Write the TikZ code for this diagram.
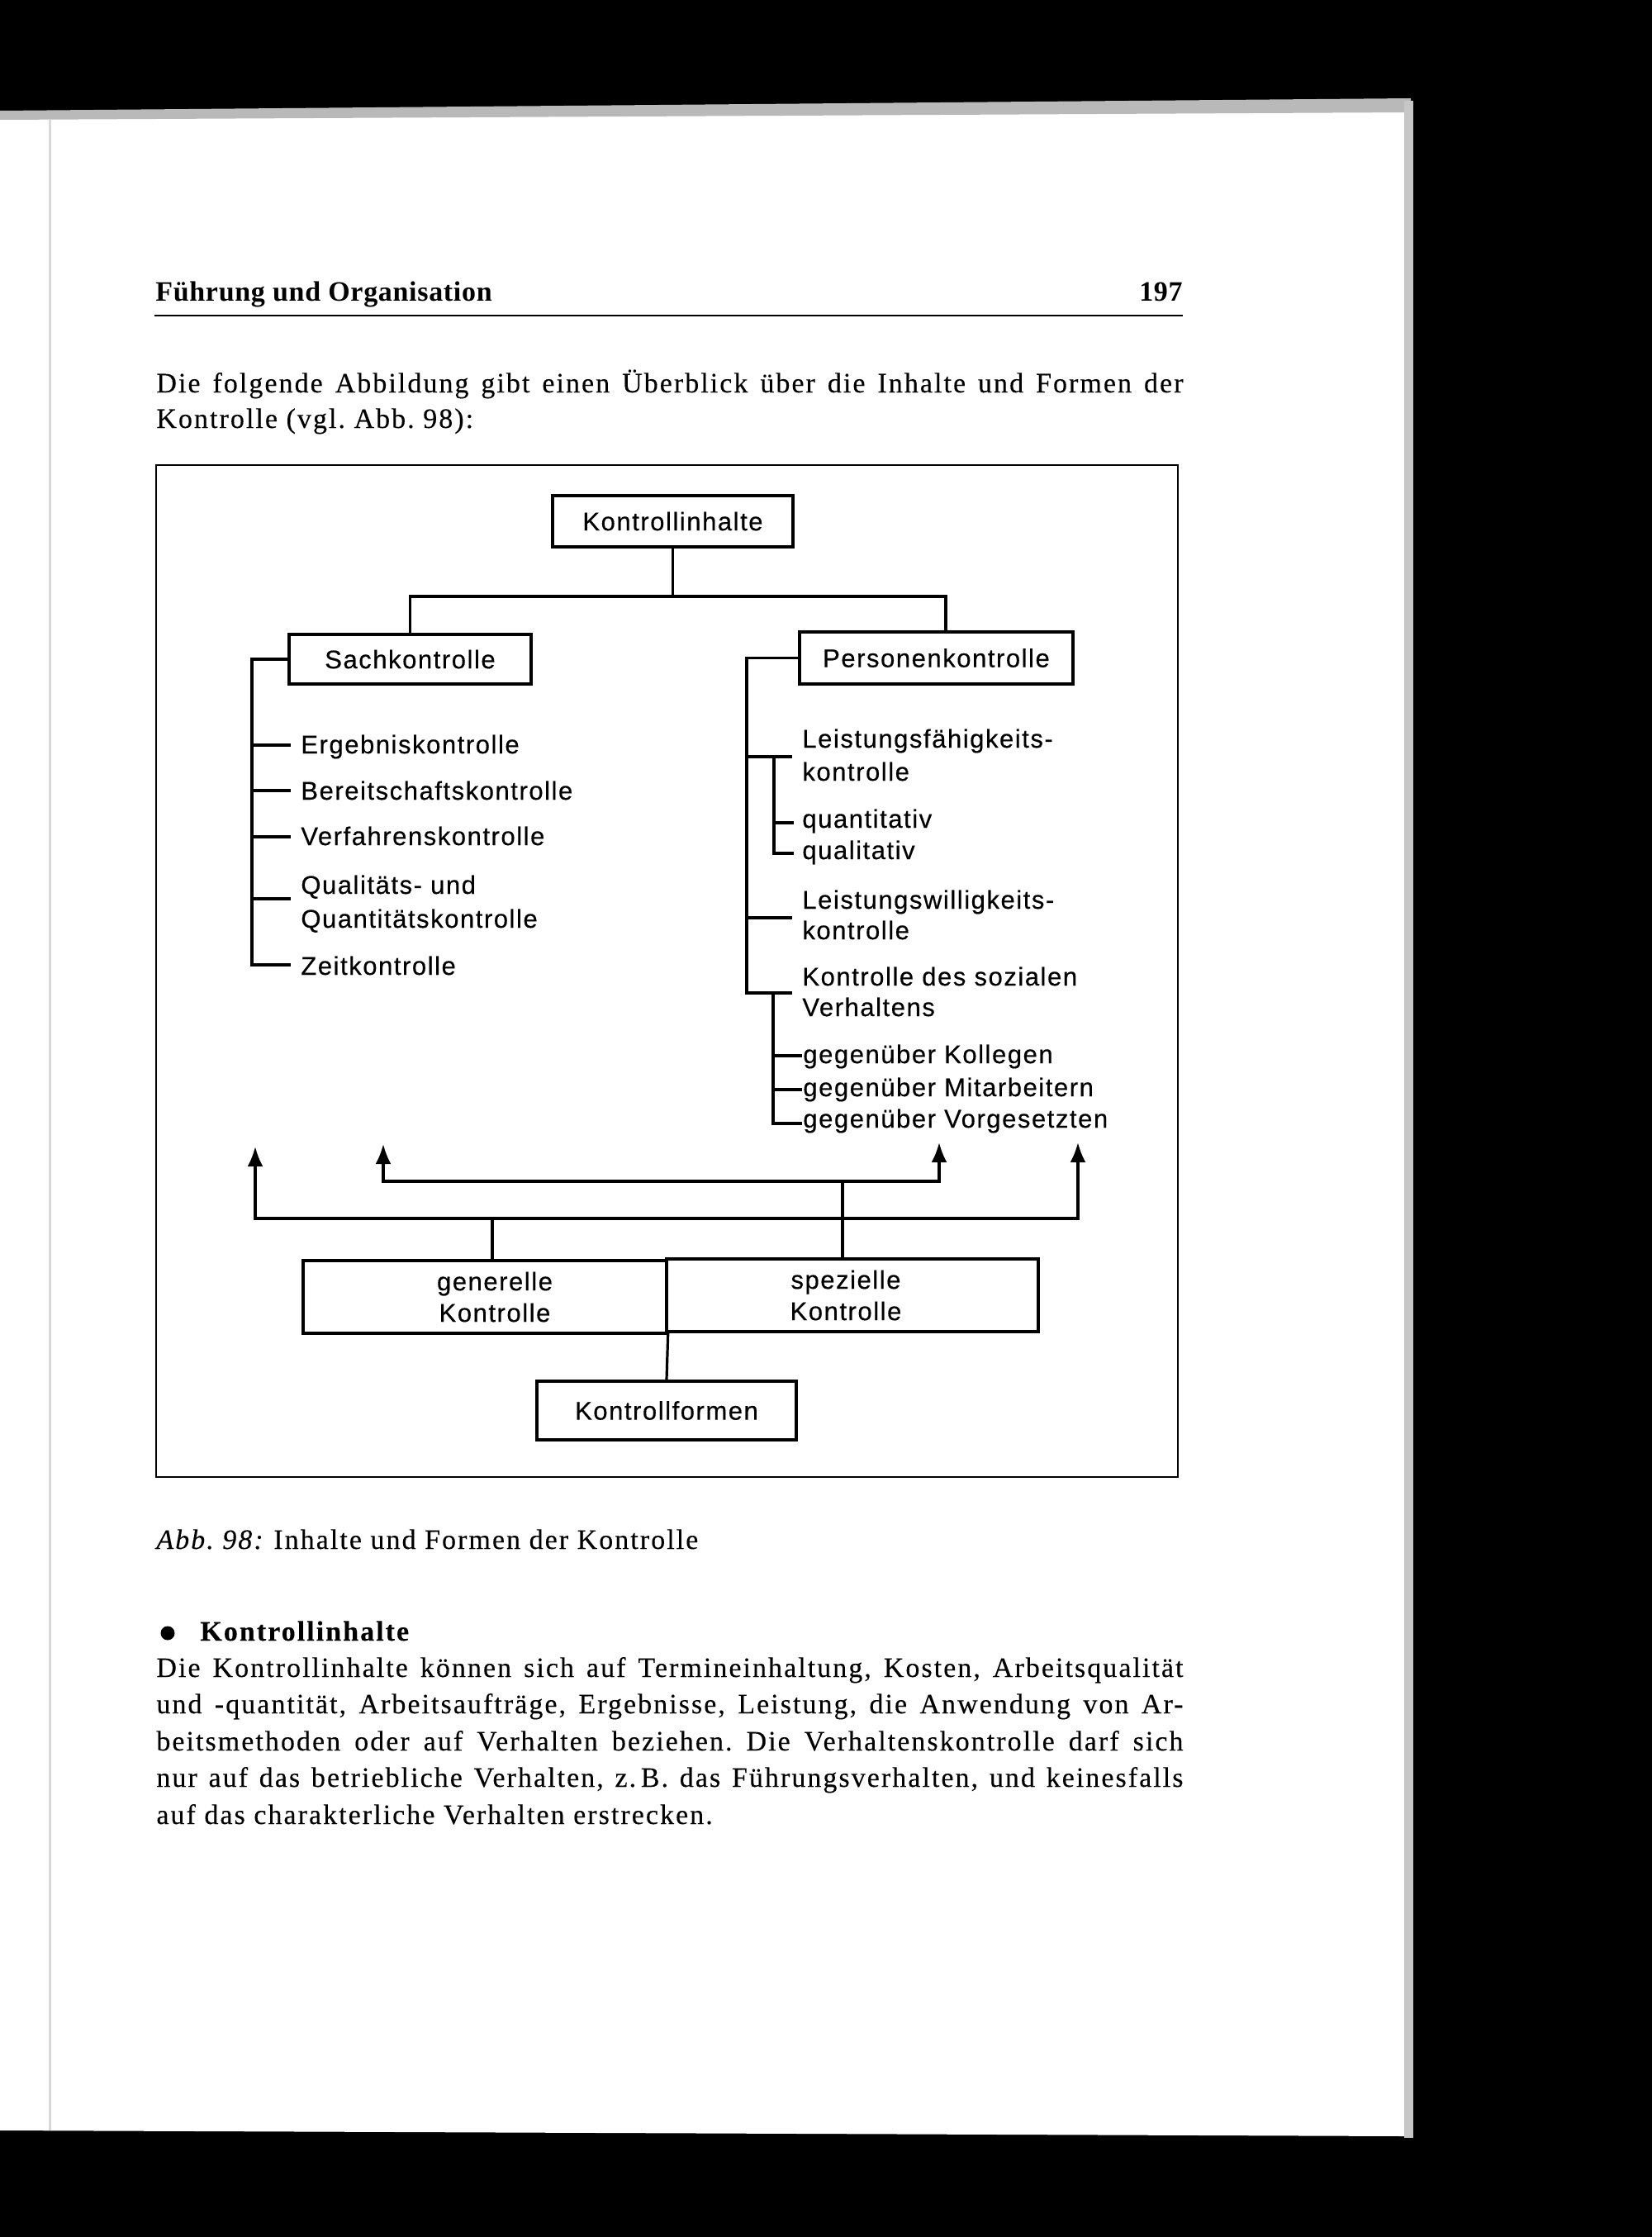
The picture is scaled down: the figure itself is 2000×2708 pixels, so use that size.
\documentclass[tikz,border=0pt]{standalone}
\usepackage{fontspec}
\setmainfont{Liberation Serif}
\newfontfamily\bodyfont{Liberation Serif}[LetterSpace=6,FakeBold=0.2]
\newfontfamily\headfont{Liberation Serif}[LetterSpace=2]
\newfontfamily\diafont{Liberation Sans}[LetterSpace=5,FakeBold=0.4]
\usetikzlibrary{arrows.meta}
\newcommand\justline[1]{\hbox to 621.5pt{\frenchspacing\spaceskip=0.28em plus 1em minus 0.1em\relax #1}}
\begin{document}
\begin{tikzpicture}[x=0.5pt,y=-0.5pt,
  diabox/.style={draw, line width=1.7pt, inner sep=0pt, align=center,
    font=\diafont\fontsize{15.5pt}{19pt}\selectfont},
  item/.style={anchor=base west, inner sep=0pt,
    font=\diafont\fontsize{15.5pt}{19pt}\selectfont},
  conn/.style={line width=1.6pt, line cap=rect, line join=miter},
  arr/.style={line width=1.6pt, line join=miter, -{Latex[length=12pt,width=9.5pt]}},
  body/.style={anchor=base west, inner sep=0pt,
    font=\bodyfont\frenchspacing\fontsize{17pt}{22pt}\selectfont},
  head/.style={inner sep=0pt, font=\headfont\bfseries\fontsize{17pt}{20pt}\selectfont},
]
\useasboundingbox (0,0) rectangle (2000,2708);
% ---------- scanned page ----------
\fill[black] (0,0) rectangle (2000,2708);
\fill[white] (0,142) -- (1702,128) -- (1702,2586) -- (0,2579) -- cycle;
\fill[gray!55] (0,134) -- (1708,119) -- (1708,136) -- (0,145) -- cycle;
\fill[gray!45] (1700,122) rectangle (1711,2588);
\draw[gray!30, line width=1.5pt] (60,145) -- (60,2579);
% ---------- running head ----------
\node[head, anchor=base west] (rh) at (188,364) {Führung und Organisation};
\node[head, anchor=base east] (pg) at (1432,364) {197};
\draw[line width=1.3pt] (187,382) -- (1432,382);
% ---------- intro text ----------
\node[body] (i1) at (189,475) {\justline{Die folgende Abbildung gibt einen Überblick über die Inhalte und Formen der}};
\node[body] (i2) at (189,518) {Kontrolle (vgl. Abb. 98):};
% ---------- figure frame ----------
\draw[line width=1.3pt] (189,563) rectangle (1426,1788);
% ---------- Kontrollinhalte ----------
\node[diabox, minimum width=145.5pt, minimum height=31pt] (ki) at (814.5,631) {Kontrollinhalte};
\node[diabox, minimum width=146.5pt, minimum height=30pt] (sach) at (496.5,798) {Sachkontrolle};
\node[diabox, minimum width=165.5pt, minimum height=31.5pt] (pers) at (1133.5,796.5) {Personenkontrolle};
\coordinate (kbar) at (496,722);
\coordinate (kbarR) at (1145,722);
\draw[conn] (ki.south) -- (ki.south |- kbar);
\draw[conn] (sach.north) -- (sach.north |- kbar) -- (kbarR) -- (kbarR |- pers.north);
% ---------- Sachkontrolle list ----------
\node[item] (erg) at (364,912) {Ergebniskontrolle};
\node[item] (ber) at (364,968) {Bereitschaftskontrolle};
\node[item] (ver) at (364,1023) {Verfahrenskontrolle};
\node[item] (qua) at (364,1082) {Qualitäts- und};
\node[item] (qub) at (364,1123) {Quantitätskontrolle};
\node[item] (zei) at (364,1180) {Zeitkontrolle};
\coordinate (sbar) at (305,801);
\coordinate (s1) at (350,902);
\coordinate (s2) at (350,957);
\coordinate (s3) at (350,1013);
\coordinate (s4) at (350,1088);
\coordinate (s5) at (350,1168);
\draw[conn] (sach.west) -- (sach.west -| sbar) -- (sbar |- s5) -- (s5);
\foreach \t in {s1,s2,s3,s4} \draw[conn] (sbar |- \t) -- (\t);
% ---------- Personenkontrolle list ----------
\node[item] (lfa) at (971,905) {Leistungsfähigkeits-};
\node[item] (lfb) at (971,945) {kontrolle};
\node[item] (qn) at (971,1002) {quantitativ};
\node[item] (ql) at (971,1040) {qualitativ};
\node[item] (lwa) at (971,1100) {Leistungswilligkeits-};
\node[item] (lwb) at (971,1137) {kontrolle};
\node[item] (ksa) at (971,1193) {Kontrolle des sozialen};
\node[item] (ksb) at (971,1230) {Verhaltens};
\node[item] (gk) at (972,1287) {gegenüber Kollegen};
\node[item] (gm) at (972,1327) {gegenüber Mitarbeitern};
\node[item] (gv) at (972,1365) {gegenüber Vorgesetzten};
\coordinate (pbar) at (904,798);
\coordinate (p1) at (957,916);
\coordinate (p2) at (957,1111);
\coordinate (p3) at (957,1202);
\draw[conn] (pers.west) -- (pers.west -| pbar) -- (pbar |- p3) -- (p3);
\draw[conn] (pbar |- p1) -- (p1);
\draw[conn] (pbar |- p2) -- (p2);
\coordinate (q0) at (937,916);
\coordinate (q1) at (959,996);
\coordinate (q2) at (959,1033);
\draw[conn] (q0) -- (q0 |- q2) -- (q2);
\draw[conn] (q0 |- q1) -- (q1);
\coordinate (r0) at (936,1202);
\coordinate (r1) at (969,1278);
\coordinate (r2) at (969,1319);
\coordinate (r3) at (969,1360);
\draw[conn] (r0) -- (r0 |- r3) -- (r3);
\draw[conn] (r0 |- r1) -- (r1);
\draw[conn] (r0 |- r2) -- (r2);
% ---------- Kontrollformen ----------
\node[diabox, minimum width=220pt, minimum height=44pt] (gen) at (587,1570) {\hspace*{12pt}generelle\\\hspace*{12pt}Kontrolle};
\node[diabox, minimum width=225pt, minimum height=44pt] (spez) at (1032,1568) {spezielle\hspace*{8pt}\\Kontrolle\hspace*{8pt}};
\node[diabox, minimum width=157pt, minimum height=35.5pt] (kf) at (807,1707.5) {Kontrollformen};
\draw[conn] (gen.south east) -- (kf.north);
\coordinate (gj) at (596,1475);
\coordinate (sj) at (1020,1430);
\coordinate (a1) at (309,1388);
\coordinate (a2) at (464,1385);
\coordinate (a3) at (1137,1383);
\coordinate (a4) at (1305,1383);
\draw[conn] (gen.north -| gj) -- (gj);
\draw[conn] (spez.north -| sj) -- (sj);
\draw[arr] (gj) -| (a1);
\draw[arr] (gj) -| (a4);
\draw[arr] (sj) -| (a2);
\draw[arr] (sj) -| (a3);
% ---------- caption and text ----------
\node[body] (cap) at (189,1875) {\textit{Abb. 98:} Inhalte und Formen der Kontrolle};
\node[circle, fill, inner sep=0pt, minimum size=8.5pt] (bul) at (203,1977) {};
\node[body] (hd) at (242,1986) {\textbf{Kontrollinhalte}};
\node[body] (b1) at (189,2030) {\justline{Die Kontrollinhalte können sich auf Termineinhaltung, Kosten, Arbeitsqualität}};
\node[body] (b2) at (189,2074) {\justline{und -quantität, Arbeitsaufträge, Ergebnisse, Leistung, die Anwendung von Ar-}};
\node[body] (b3) at (189,2119) {\justline{beitsmethoden oder auf Verhalten beziehen. Die Verhaltenskontrolle darf sich}};
\node[body] (b4) at (189,2163) {\justline{nur auf das betriebliche Verhalten, z.\,B. das Führungsverhalten, und keinesfalls}};
\node[body] (b5) at (189,2208) {auf das charakterliche Verhalten erstrecken.};
\end{tikzpicture}
\end{document}
